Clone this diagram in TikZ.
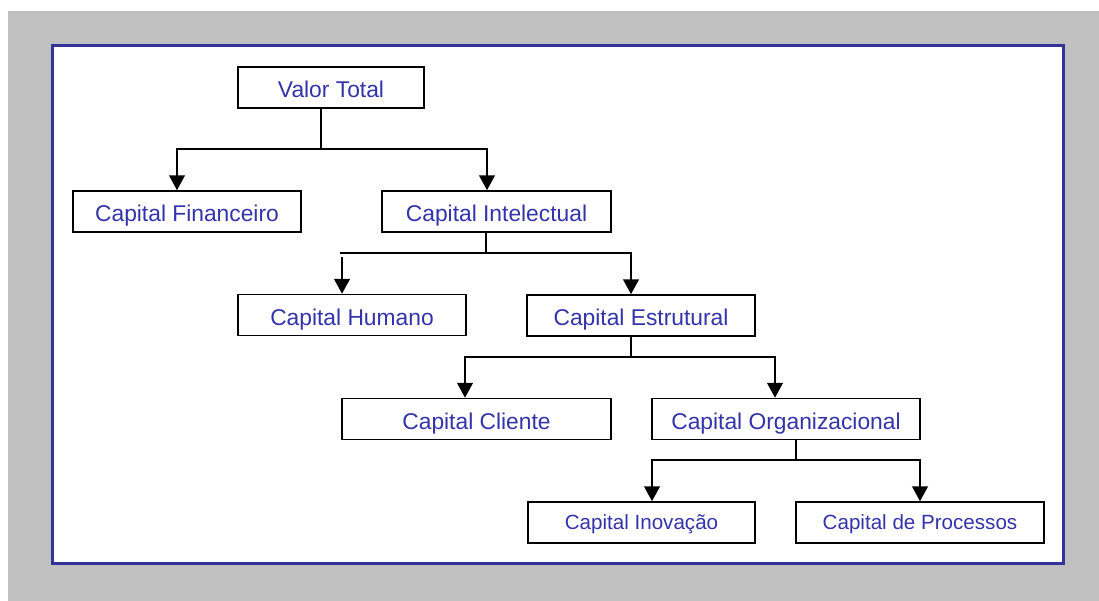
\documentclass[tikz,border=0pt]{standalone}
\usepackage{fontspec}
\setmainfont{Liberation Sans}
\usetikzlibrary{arrows.meta}
\definecolor{pagegrey}{RGB}{192,192,192}
\definecolor{frameblue}{RGB}{51,51,153}
\definecolor{labelblue}{RGB}{51,51,170}
\begin{document}
\begin{tikzpicture}[x=1pt,y=-1pt,
  box/.style={draw=black, line width=1.4pt, fill=white, text=labelblue,
    minimum height=41pt, inner sep=0pt, anchor=center},
  bigbox/.style={box, font=\fontsize{22.8}{24}\selectfont,
    text height=21.7pt, text depth=1.1pt},
  smallbox/.style={box, font=\fontsize{20.6}{22}\selectfont,
    text height=16.5pt, text depth=1.7pt},
  trunk/.style={line width=1.8pt, line cap=rect},
  branch/.style={line width=2.7pt, -{Triangle[length=15pt,width=15.5pt]}}]

% page, grey backdrop and framed panel
\useasboundingbox (0,0) rectangle (1099,601);
\fill[white] (0,0) rectangle (1099,601);
\fill[pagegrey] (8,11) rectangle (1099,601);
\draw[frameblue, line width=3pt, fill=white] (52,46) rectangle (1063,563);

% hierarchy boxes
\node[bigbox, minimum width=186pt] (vt) at (331,87.5) {Valor Total};
\node[bigbox, minimum width=228pt] (cf) at (187,211.5) {Capital Financeiro};
\node[bigbox, minimum width=229pt] (ci) at (496.5,211.5) {Capital Intelectual};
\node[bigbox, minimum width=228pt] (ch) at (352,315) {Capital Humano};
\node[bigbox, minimum width=228pt] (ce) at (641,315.5) {Capital Estrutural};
\node[bigbox, minimum width=269pt] (cc) at (476.5,419) {Capital Cliente};
\node[bigbox, minimum width=268pt] (co) at (786,419) {Capital Organizacional};
\node[smallbox, minimum width=227pt] (cn) at (641.5,522.5) {Capital Inovação};
\node[smallbox, minimum width=248pt] (cp) at (920,522.5) {Capital de Processos};

% junction points of the connectors
\coordinate (j1) at (321,149);
\coordinate (l1) at (177,149);
\coordinate (r1) at (487,149);
\coordinate (j2) at (486,253);
\coordinate (l2) at (341,253);
\coordinate (r2) at (631,253);
\coordinate (j3) at (631,357);
\coordinate (l3) at (465,357);
\coordinate (r3) at (775,357);
\coordinate (j4) at (796,460);
\coordinate (l4) at (652,460);
\coordinate (r4) at (920,460);

% Valor Total
\draw[trunk] (vt.south -| j1) -- (j1);
\draw[trunk] (l1) -- (r1);
\draw[branch] (l1) -- (cf.north -| l1);
\draw[branch] (r1) -- (ci.north -| r1);

% Capital Intelectual
\draw[trunk] (ci.south -| j2) -- (j2);
\draw[trunk] (l2) -- (r2);
\draw[branch] ([shift={(1,4)}]l2) -- (ch.north -| 342,0);
\draw[branch] (r2) -- (ce.north -| r2);

% Capital Estrutural
\draw[trunk] (ce.south -| j3) -- (j3);
\draw[trunk] (l3) -- (r3);
\draw[branch] (l3) -- (cc.north -| l3);
\draw[branch] (r3) -- (co.north -| r3);

% Capital Organizacional
\draw[trunk] (co.south -| j4) -- (j4);
\draw[trunk] (l4) -- (r4);
\draw[branch] (l4) -- (cn.north -| l4);
\draw[branch] (r4) -- (cp.north -| r4);
\end{tikzpicture}
\end{document}
